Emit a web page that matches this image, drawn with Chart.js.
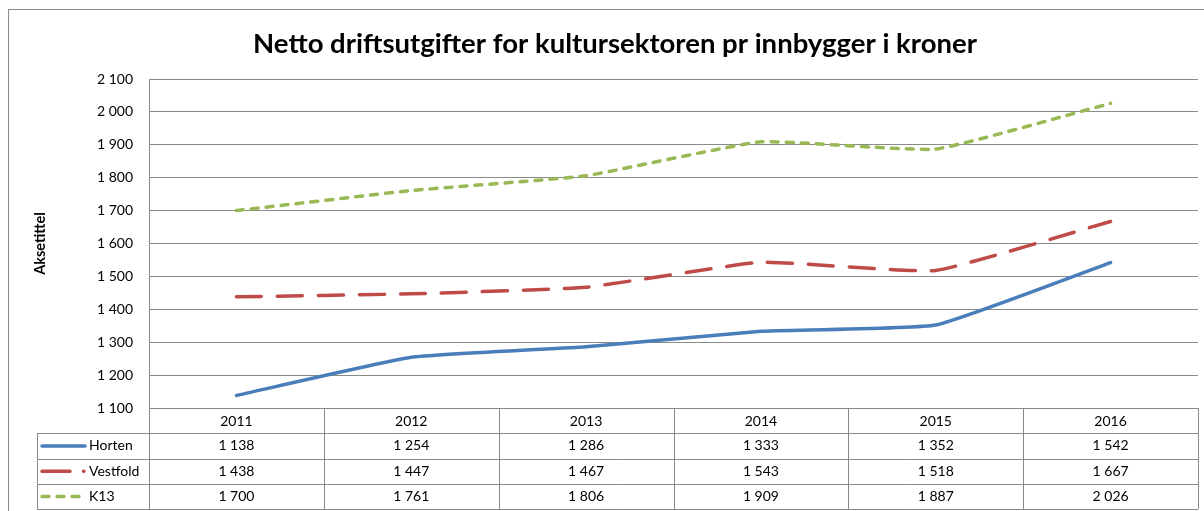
<!DOCTYPE html>
<html>
<head>
<meta charset="utf-8">
<script src="https://cdn.jsdelivr.net/npm/chart.js@4.4.1/dist/chart.umd.min.js"></script>
<style>
  html, body { margin: 0; padding: 0; background: #fff; }
  #wrap { width: 1204px; height: 511px; }
</style>
</head>
<body>
<div id="wrap"><canvas id="chart" width="1204" height="511"></canvas></div>
<script>
const years = ['2011', '2012', '2013', '2014', '2015', '2016'];
const horten = [1138, 1254, 1286, 1333, 1352, 1542];
const vestfold = [1438, 1447, 1467, 1543, 1518, 1667];
const k13 = [1700, 1761, 1806, 1909, 1887, 2026];
const seriesNames = ['Horten', 'Vestfold', 'K13'];

const FONT = 'Lato, Calibri, "Open Sans", sans-serif';
const GRID = '#8a8a8a';

// 1 138 style numbers
const fmt = v => String(v).replace(/\B(?=(\d{3})+(?!\d))/g, ' ');

const dataTable = {
  id: 'dataTable',
  afterDraw(chart) {
    const c = chart.ctx, x = chart.scales.x, area = chart.chartArea;
    const rowH = 25.3, top = area.bottom, labelLeft = 37;
    const bounds = [area.left];
    for (let i = 1; i < years.length; i++) {
      bounds.push((x.getPixelForValue(i - 1) + x.getPixelForValue(i)) / 2);
    }
    bounds.push(area.right);

    c.save();
    c.strokeStyle = GRID;
    c.lineWidth = 1;
    c.beginPath();
    // horizontal rules
    for (let r = 1; r <= 4; r++) {
      const y = Math.round(top + r * rowH) + 0.5;
      c.moveTo(labelLeft, y);
      c.lineTo(area.right, y);
    }
    // vertical rules
    bounds.forEach(b => {
      const bx = Math.round(b) + 0.5;
      c.moveTo(bx, top);
      c.lineTo(bx, top + 4 * rowH);
    });
    c.moveTo(labelLeft + 0.5, top + rowH);
    c.lineTo(labelLeft + 0.5, top + 4 * rowH);
    // outer frame of the chart object
    c.moveTo(8.5, 511);
    c.lineTo(8.5, 9.5);
    c.lineTo(1204, 9.5);
    c.stroke();

    c.font = '14px ' + FONT;
    c.fillStyle = '#000';
    c.textBaseline = 'middle';
    c.textAlign = 'center';
    chart.data.datasets.forEach((ds, r) => {
      const cy = top + (r + 1.5) * rowH;
      ds.data.forEach((v, i) => {
        c.fillText(fmt(v), x.getPixelForValue(i), cy);
      });
      // legend key
      c.save();
      c.strokeStyle = ds.borderColor;
      c.lineWidth = 3.5;
      c.lineCap = 'round';
      c.beginPath();
      if (r === 0) {
        c.moveTo(42, cy); c.lineTo(85, cy);
      } else if (r === 1) {
        c.moveTo(42, cy); c.lineTo(70, cy);
        c.moveTo(83.5, cy); c.lineTo(84, cy);
      } else {
        c.setLineDash([7, 8]);
        c.moveTo(42, cy); c.lineTo(82, cy);
      }
      c.stroke();
      c.restore();
      c.textAlign = 'left';
      c.fillText(ds.label, 89, cy);
      c.textAlign = 'center';
    });
    c.restore();
  }
};

const config = {
  type: 'line',
  data: {
    labels: years,
    datasets: [
      { label: seriesNames[0], data: horten, borderColor: '#4a7ebb', borderWidth: 3.5 },
      { label: seriesNames[1], data: vestfold, borderColor: '#be4b48', borderWidth: 3.5,
        borderDash: [25, 16] },
      { label: seriesNames[2], data: k13, borderColor: '#98b954', borderWidth: 3.5,
        borderDash: [7, 8] }
    ]
  },
  options: {
    responsive: false,
    animation: false,
    layout: { padding: { left: 32, right: 6, top: 0, bottom: 0 } },
    elements: {
      point: { radius: 0 },
      line: { tension: 0.12, borderCapStyle: 'round', fill: false }
    },
    plugins: {
      legend: { display: false },
      tooltip: { enabled: false },
      title: {
        display: true,
        text: 'Netto driftsutgifter for kultursektoren pr innbygger i kroner',
        color: '#000',
        font: { family: FONT, size: 27.5, weight: 'bold' },
        padding: { top: 27.5, bottom: 18.5 }
      }
    },
    scales: {
      x: {
        offset: true,
        grid: { display: false, drawTicks: false },
        border: { color: GRID },
        ticks: { color: '#000', font: { family: FONT, size: 14 }, padding: 5, maxRotation: 0 },
        afterFit(s) { s.height = 103; }
      },
      y: {
        min: 1100,
        max: 2100,
        grid: { color: GRID, drawTicks: false },
        border: { color: GRID },
        ticks: {
          stepSize: 100,
          color: '#000',
          padding: 16,
          font: { family: FONT, size: 14 },
          callback: v => fmt(v)
        },
        title: {
          display: true,
          text: 'Aksetittel',
          color: '#000',
          font: { family: FONT, size: 14.5, weight: 'bold' },
          padding: 0
        },
        afterFit(s) { s.width = 117; }
      }
    }
  },
  plugins: [dataTable]
};

const ctx = document.getElementById('chart').getContext('2d');
const myChart = new Chart(ctx, config);
</script>
</body>
</html>
